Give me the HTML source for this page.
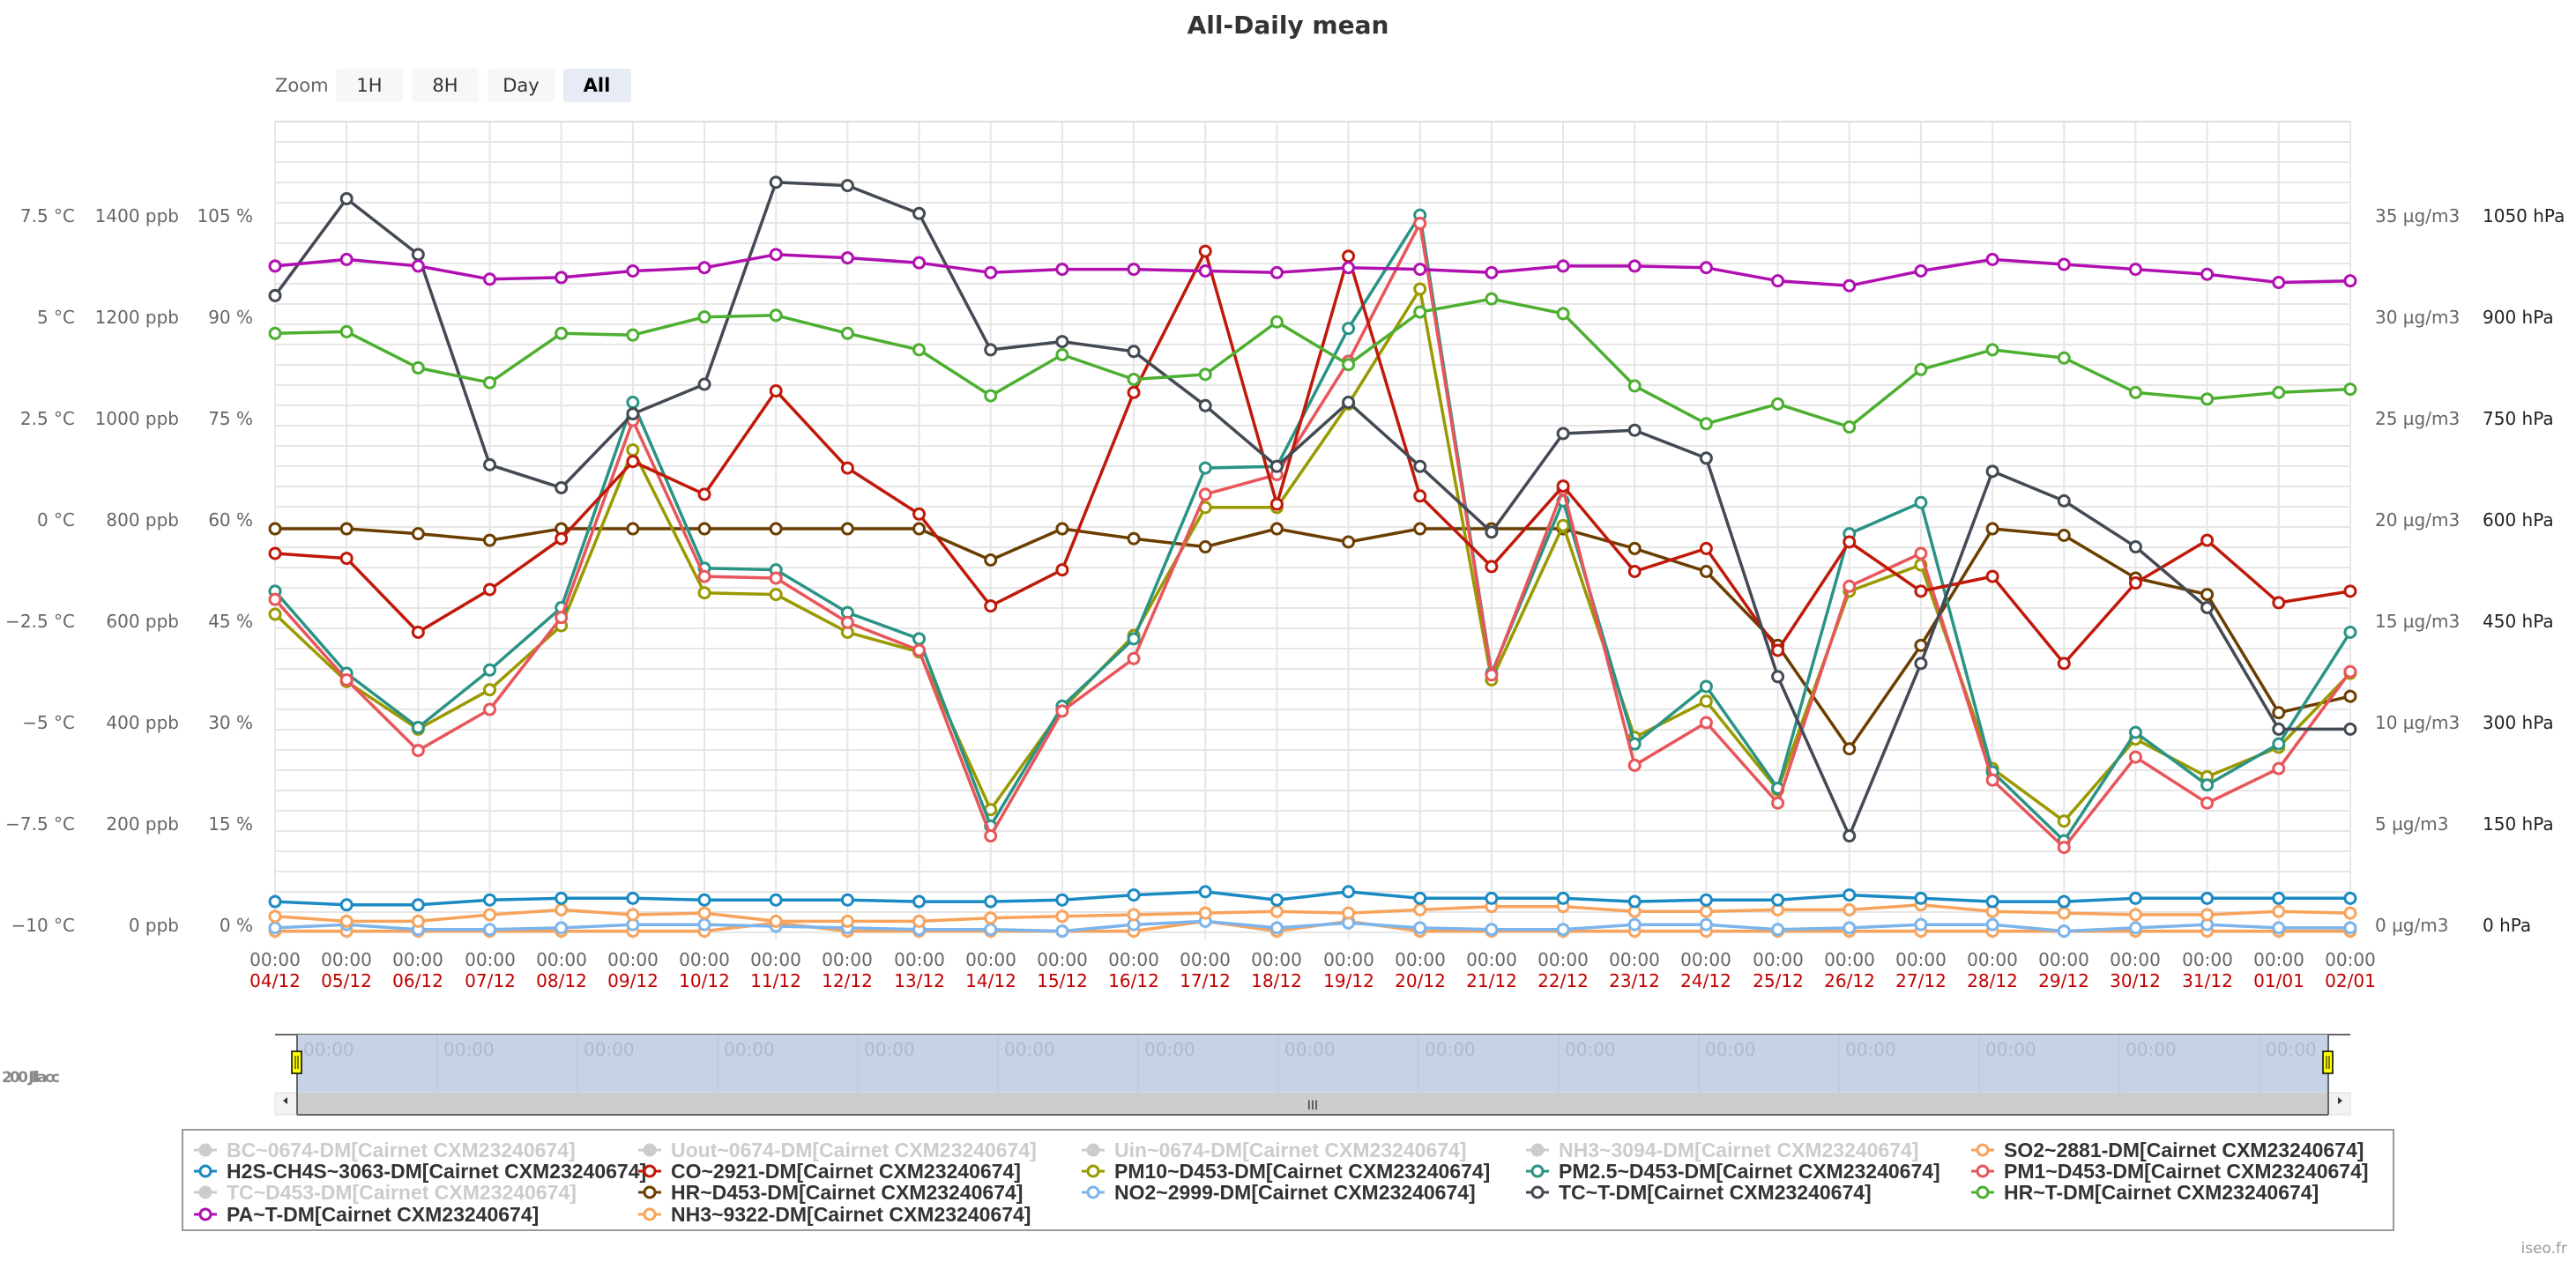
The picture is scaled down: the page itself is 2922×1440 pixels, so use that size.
<!DOCTYPE html>
<html><head><meta charset="utf-8"><style>
html,body{margin:0;padding:0;background:#fff;}
body{width:2922px;height:1435px;overflow:hidden;font-family:"Liberation Sans","DejaVu Sans",sans-serif;}
svg text{font-family:"DejaVu Sans","Liberation Sans",sans-serif;}
svg #leg text{font-family:"Liberation Sans",sans-serif;}
</style></head><body>
<svg id="s" width="2922" height="1435" xmlns="http://www.w3.org/2000/svg">
<text x="1461" y="38" text-anchor="middle" font-size="28" font-weight="bold" fill="#333">All-Daily mean</text>
<text x="312" y="104" font-size="21" fill="#666">Zoom</text>
<rect x="381" y="78" width="76" height="38" rx="3" fill="#f7f7f7"/><text x="419" y="104" text-anchor="middle" font-size="21" fill="#333">1H</text>
<rect x="467" y="78" width="76" height="38" rx="3" fill="#f7f7f7"/><text x="505" y="104" text-anchor="middle" font-size="21" fill="#333">8H</text>
<rect x="553" y="78" width="76" height="38" rx="3" fill="#f7f7f7"/><text x="591" y="104" text-anchor="middle" font-size="21" fill="#333">Day</text>
<rect x="639" y="78" width="77" height="38" rx="3" fill="#e6ebf5"/><text x="677" y="104" text-anchor="middle" font-size="21" font-weight="bold" fill="#000">All</text>
<g id="grid"></g>
<g font-size="20" fill="#666" text-anchor="end">
<text x="85" y="252">7.5 °C</text><text x="85" y="367">5 °C</text><text x="85" y="482">2.5 °C</text><text x="85" y="597">0 °C</text><text x="85" y="712">−2.5 °C</text><text x="85" y="827">−5 °C</text><text x="85" y="942">−7.5 °C</text><text x="85" y="1057">−10 °C</text>
<text x="203" y="252">1400 ppb</text><text x="203" y="367">1200 ppb</text><text x="203" y="482">1000 ppb</text><text x="203" y="597">800 ppb</text><text x="203" y="712">600 ppb</text><text x="203" y="827">400 ppb</text><text x="203" y="942">200 ppb</text><text x="203" y="1057">0 ppb</text>
<text x="287" y="252">105 %</text><text x="287" y="367">90 %</text><text x="287" y="482">75 %</text><text x="287" y="597">60 %</text><text x="287" y="712">45 %</text><text x="287" y="827">30 %</text><text x="287" y="942">15 %</text><text x="287" y="1057">0 %</text>
</g>
<g font-size="20" fill="#666">
<text x="2694" y="252">35 µg/m3</text><text x="2694" y="367">30 µg/m3</text><text x="2694" y="482">25 µg/m3</text><text x="2694" y="597">20 µg/m3</text><text x="2694" y="712">15 µg/m3</text><text x="2694" y="827">10 µg/m3</text><text x="2694" y="942">5 µg/m3</text><text x="2694" y="1057">0 µg/m3</text>
</g>
<g font-size="20" fill="#222">
<text x="2816" y="252">1050 hPa</text><text x="2816" y="367">900 hPa</text><text x="2816" y="482">750 hPa</text><text x="2816" y="597">600 hPa</text><text x="2816" y="712">450 hPa</text><text x="2816" y="827">300 hPa</text><text x="2816" y="942">150 hPa</text><text x="2816" y="1057">0 hPa</text>
</g>
<g font-size="20" fill="#666" text-anchor="middle">
<text x="312" y="1096">00:00</text><text x="393" y="1096">00:00</text><text x="474" y="1096">00:00</text><text x="556" y="1096">00:00</text><text x="637" y="1096">00:00</text><text x="718" y="1096">00:00</text><text x="799" y="1096">00:00</text><text x="880" y="1096">00:00</text><text x="961" y="1096">00:00</text><text x="1043" y="1096">00:00</text><text x="1124" y="1096">00:00</text><text x="1205" y="1096">00:00</text><text x="1286" y="1096">00:00</text><text x="1367" y="1096">00:00</text><text x="1448" y="1096">00:00</text><text x="1530" y="1096">00:00</text><text x="1611" y="1096">00:00</text><text x="1692" y="1096">00:00</text><text x="1773" y="1096">00:00</text><text x="1854" y="1096">00:00</text><text x="1935" y="1096">00:00</text><text x="2017" y="1096">00:00</text><text x="2098" y="1096">00:00</text><text x="2179" y="1096">00:00</text><text x="2260" y="1096">00:00</text><text x="2341" y="1096">00:00</text><text x="2422" y="1096">00:00</text><text x="2504" y="1096">00:00</text><text x="2585" y="1096">00:00</text><text x="2666" y="1096">00:00</text>
</g>
<g font-size="20" fill="#c00000" text-anchor="middle">
<text x="312" y="1120">04/12</text><text x="393" y="1120">05/12</text><text x="474" y="1120">06/12</text><text x="556" y="1120">07/12</text><text x="637" y="1120">08/12</text><text x="718" y="1120">09/12</text><text x="799" y="1120">10/12</text><text x="880" y="1120">11/12</text><text x="961" y="1120">12/12</text><text x="1043" y="1120">13/12</text><text x="1124" y="1120">14/12</text><text x="1205" y="1120">15/12</text><text x="1286" y="1120">16/12</text><text x="1367" y="1120">17/12</text><text x="1448" y="1120">18/12</text><text x="1530" y="1120">19/12</text><text x="1611" y="1120">20/12</text><text x="1692" y="1120">21/12</text><text x="1773" y="1120">22/12</text><text x="1854" y="1120">23/12</text><text x="1935" y="1120">24/12</text><text x="2017" y="1120">25/12</text><text x="2098" y="1120">26/12</text><text x="2179" y="1120">27/12</text><text x="2260" y="1120">28/12</text><text x="2341" y="1120">29/12</text><text x="2422" y="1120">30/12</text><text x="2504" y="1120">31/12</text><text x="2585" y="1120">01/01</text><text x="2666" y="1120">02/01</text>
</g>
<g id="series"></g>
<line x1="312" y1="1174" x2="2666" y2="1174" stroke="#666" stroke-width="2"/>
<rect x="337" y="1174" width="2304" height="66" fill="#c6d3e6"/>
<g id="navgrid"></g>
<g font-size="20" fill="#b0b8c8">
<text x="344" y="1198">00:00</text><text x="503" y="1198">00:00</text><text x="662" y="1198">00:00</text><text x="821" y="1198">00:00</text><text x="980" y="1198">00:00</text><text x="1139" y="1198">00:00</text><text x="1298" y="1198">00:00</text><text x="1457" y="1198">00:00</text><text x="1616" y="1198">00:00</text><text x="1775" y="1198">00:00</text><text x="1934" y="1198">00:00</text><text x="2093" y="1198">00:00</text><text x="2252" y="1198">00:00</text><text x="2411" y="1198">00:00</text><text x="2570" y="1198">00:00</text>
</g>
<rect x="312" y="1240" width="2354" height="25" fill="#f2f2f2" stroke="#ddd"/>
<rect x="337" y="1240" width="2304" height="25" fill="#cccccc"/>
<line x1="337" y1="1265" x2="2641" y2="1265" stroke="#666" stroke-width="2"/>
<line x1="337" y1="1174" x2="337" y2="1265" stroke="#666" stroke-width="2"/>
<line x1="2641" y1="1174" x2="2641" y2="1265" stroke="#666" stroke-width="2"/>
<path d="M326 1253 l-5 -4 l5 -4z" fill="#333"/><path d="M2652 1245 l5 4 l-5 4z" fill="#333"/>
<text x="1489" y="1259" font-size="14" fill="#333" text-anchor="middle">III</text>
<rect x="331" y="1193" width="11" height="25" fill="#ffff00" stroke="#000" stroke-width="1.5"/>
<line x1="335" y1="1198" x2="335" y2="1213" stroke="#000"/><line x1="338" y1="1198" x2="338" y2="1213" stroke="#000"/>
<rect x="2635" y="1193" width="11" height="25" fill="#ffff00" stroke="#000" stroke-width="1.5"/>
<line x1="2639" y1="1198" x2="2639" y2="1213" stroke="#000"/><line x1="2642" y1="1198" x2="2642" y2="1213" stroke="#000"/>
<text x="2" y="1228" font-size="17" font-weight="bold" fill="#888" textLength="66">200 Jllacc</text>
<rect x="207" y="1282" width="2508" height="114" fill="#fff" stroke="#999" stroke-width="2"/>
<g id="leg" font-size="23" font-weight="bold"></g>
<text x="2912" y="1422" font-size="17" fill="#999" text-anchor="end">iseo.fr</text>
</svg>
<script>
var NS="http://www.w3.org/2000/svg";
function el(p,t,a){var e=document.createElementNS(NS,t);for(var k in a)e.setAttribute(k,a[k]);p.appendChild(e);return e;}
var g=document.getElementById('grid');
for(var y=138;y<=1059;y+=23)el(g,'line',{x1:312,x2:2666,y1:y,y2:y,stroke:'#e6e6e6','stroke-width':2});
var X=[];for(var i=0;i<30;i++){X.push(312+i*81.17);el(g,'line',{x1:312+i*81.17,x2:312+i*81.17,y1:138,y2:1066,stroke:'#e6e6e6','stroke-width':2});}
el(g,'line',{x1:312,x2:2666,y1:138,y2:138,stroke:'#ddd','stroke-width':2});
var ng=document.getElementById('navgrid');
for(var k=0;k<15;k++)el(ng,'line',{x1:337+k*159,x2:337+k*159,y1:1174,y2:1240,stroke:'#b8c5d8','stroke-width':1});
var S=1.8635;
var data=[
['#f7a35c',[567,567,567,567,567,567,567,562,567,567,567,567,567,561,567,561,567,567,567,567,567,567,567,567,567,567,567,567,567,567]],
['#7cb5ec',[565,563,566,566,565,563,563,564,565,566,566,567,563,561,565,562,565,566,566,563,563,566,565,563,563,567,565,563,565,565]],
['#f7a35c',[558,561,561,557,554,557,556,561,561,561,559,558,557,556,555,556,554,552,552,555,555,554,554,551,555,556,557,557,555,556]],
['#1a8ac2',[549,551,551,548,547,547,548,548,548,549,549,548,545,543,548,543,547,547,547,549,548,548,545,547,549,549,547,547,547,547]],
['#6b3e00',[322,322,325,329,322,322,322,322,322,322,341,322,328,333,322,330,322,322,322,334,348,393,456,393,322,326,352,362,434,424]],
['#999900',[374,415,444,420,381,274,361,362,385,397,493,432,387,309,309,246,176,414,320,449,427,481,360,344,468,500,450,473,455,410]],
['#2a9385',[360,410,443,408,370,245,346,347,373,389,503,430,389,285,284,200,131,410,305,453,418,480,325,306,470,512,446,478,453,385]],
['#e8555a',[365,414,457,432,376,256,351,352,379,396,509,433,401,301,289,220,136,411,298,466,440,489,357,337,475,516,461,489,468,409]],
['#c0190a',[337,340,385,359,328,281,301,238,285,313,369,347,239,153,307,156,302,345,296,348,334,396,330,360,351,404,355,329,367,360]],
['#434a54',[180,121,155,283,297,252,234,111,113,130,213,208,214,247,284,245,284,324,264,262,279,412,509,404,287,305,333,370,444,444]],
['#4caf30',[203,202,224,233,203,204,193,192,203,213,241,216,231,228,196,222,190,182,191,235,258,246,260,225,213,218,239,243,239,237]],
['#b010b0',[162,158,162,170,169,165,163,155,157,160,166,164,164,165,166,163,164,166,162,162,163,171,174,165,158,161,164,167,172,171]]];
var sg=document.getElementById('series');
data.forEach(function(d){var c=d[0],v=d[1],pts=v.map(function(y,i){return X[i].toFixed(1)+','+(y*S).toFixed(1)}).join(' ');
el(sg,'polyline',{points:pts,fill:'none',stroke:c,'stroke-width':3.5,'stroke-linejoin':'round'});
v.forEach(function(y,i){el(sg,'circle',{cx:X[i],cy:y*S,r:6,fill:'#fff',stroke:c,'stroke-width':3});});});
var L=[
[['BC~0674-DM[Cairnet CXM23240674]',0],['Uout~0674-DM[Cairnet CXM23240674]',0],['Uin~0674-DM[Cairnet CXM23240674]',0],['NH3~3094-DM[Cairnet CXM23240674]',0],['SO2~2881-DM[Cairnet CXM23240674]','#f7a35c']],
[['H2S-CH4S~3063-DM[Cairnet CXM23240674]','#1a8ac2'],['CO~2921-DM[Cairnet CXM23240674]','#c0190a'],['PM10~D453-DM[Cairnet CXM23240674]','#999900'],['PM2.5~D453-DM[Cairnet CXM23240674]','#2a9385'],['PM1~D453-DM[Cairnet CXM23240674]','#e8555a']],
[['TC~D453-DM[Cairnet CXM23240674]',0],['HR~D453-DM[Cairnet CXM23240674]','#6b3e00'],['NO2~2999-DM[Cairnet CXM23240674]','#7cb5ec'],['TC~T-DM[Cairnet CXM23240674]','#434a54'],['HR~T-DM[Cairnet CXM23240674]','#4caf30']],
[['PA~T-DM[Cairnet CXM23240674]','#b010b0'],['NH3~9322-DM[Cairnet CXM23240674]','#f7a35c']]];
var lg=document.getElementById('leg');var cx=[220,724,1227,1731,2236],ry=[1305,1329,1353,1378];
L.forEach(function(row,r){row.forEach(function(it,c){var col=it[1]||'#ccc',x=cx[c],y=ry[r];
el(lg,'line',{x1:x,x2:x+26,y1:y,y2:y,stroke:col,'stroke-width':3});
el(lg,'circle',{cx:x+13,cy:y,r:6,fill:it[1]?'#fff':'#ccc',stroke:col,'stroke-width':3});
var t=el(lg,'text',{x:x+37,y:y+8,fill:it[1]?'#333':'#ccc'});t.textContent=it[0];});});
</script>
</body></html>
